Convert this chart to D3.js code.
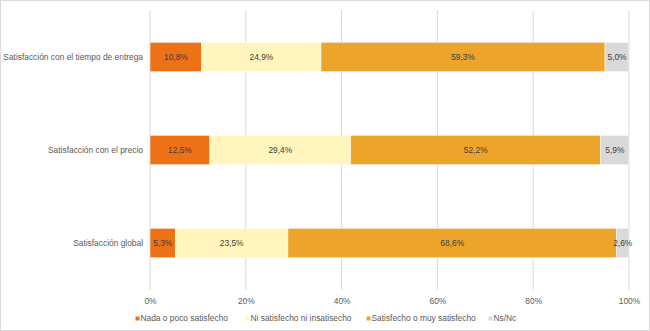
<!DOCTYPE html>
<html><head><meta charset="utf-8">
<script src="https://cdn.jsdelivr.net/npm/d3@7"></script>
<style>body{margin:0;background:#fff}svg{display:block}text{font-family:"Liberation Sans",Arial,sans-serif}</style>
</head><body><svg id="c" width="650" height="331"></svg>
<script>
const categories = ["Satisfacción con el tiempo de entrega","Satisfacción con el precio","Satisfacción global"];
const seriesNames = ["Nada o poco satisfecho","Ni satisfecho ni insatisecho","Satisfecho o muy satisfecho","Ns/Nc"];
const nada = [10.8, 12.5, 5.3];
const ni = [24.9, 29.4, 23.5];
const satisf = [59.3, 52.2, 68.6];
const nsnc = [5.0, 5.9, 2.6];
const tickValues = [0,20,40,60,80,100];
const colors = ["#ED7117","#FFF5BD","#EDA42A","#D9D9D9"];
const fs = 8.4;

const svg = d3.select("#c");
svg.append("rect").attr("x",0.5).attr("y",0.5).attr("width",649).attr("height",330).attr("fill","#fff").attr("stroke","#D9D9D9");
const x = d3.scaleLinear().domain([0,100]).range([150,629]);
const y = d3.scaleBand().domain(categories).range([10.5,289.5]).paddingInner(0.684).paddingOuter(0.342);

const g = svg.append("g");
g.selectAll("line.grid").data(tickValues).join("line")
  .attr("x1",d=>x(d)).attr("x2",d=>x(d)).attr("y1",10).attr("y2",290)
  .attr("stroke","#D9D9D9").attr("stroke-width",1);

const series = [nada, ni, satisf, nsnc];
const rows = categories.map((c,i)=>{let acc=0; return series.map((s,j)=>{const r={cat:c,j,v:s[i],x0:acc,x1:acc+s[i]};acc+=s[i];return r;});});
const flat = rows.flat();
g.selectAll("rect.bar").data(flat).join("rect")
  .attr("x",d=>x(d.x0)).attr("width",d=>x(d.x1)-x(d.x0))
  .attr("y",d=>y(d.cat)).attr("height",y.bandwidth())
  .attr("fill",d=>colors[d.j]).attr("stroke","#fff").attr("stroke-width",0.5);
g.selectAll("text.lab").data(flat).join("text")
  .attr("x",d=>(x(d.x0)+x(d.x1))/2).attr("y",d=>y(d.cat)+y.bandwidth()/2)
  .attr("dy","0.35em").attr("text-anchor","middle").attr("font-size",fs).attr("fill","#404040")
  .text(d=>d.v.toFixed(1).replace(".",",")+"%");

const xa = svg.append("g").attr("transform","translate(0,295)")
  .call(d3.axisBottom(x).tickValues(tickValues).tickSize(0).tickFormat(d=>d+"%"));
xa.select(".domain").remove();
xa.selectAll("text").attr("font-size",fs).attr("fill","#595959").attr("font-family","Liberation Sans, Arial, sans-serif");

const ya = svg.append("g").attr("transform","translate(143,0)")
  .call(d3.axisLeft(y).tickSize(0).tickPadding(0));
ya.select(".domain").remove();
ya.selectAll("text").attr("font-size",fs).attr("fill","#595959").attr("font-family","Liberation Sans, Arial, sans-serif");

const legX = [135.5,245.5,366.5,488.5];
const leg = svg.append("g");
seriesNames.forEach((n,i)=>{
  leg.append("rect").attr("x",legX[i]).attr("y",316.5).attr("width",4).attr("height",4).attr("fill",colors[i]);
  leg.append("text").attr("x",legX[i]+5).attr("y",318.5).attr("dy","0.35em").attr("font-size",fs).attr("fill","#595959").text(n);
});
</script></body></html>
